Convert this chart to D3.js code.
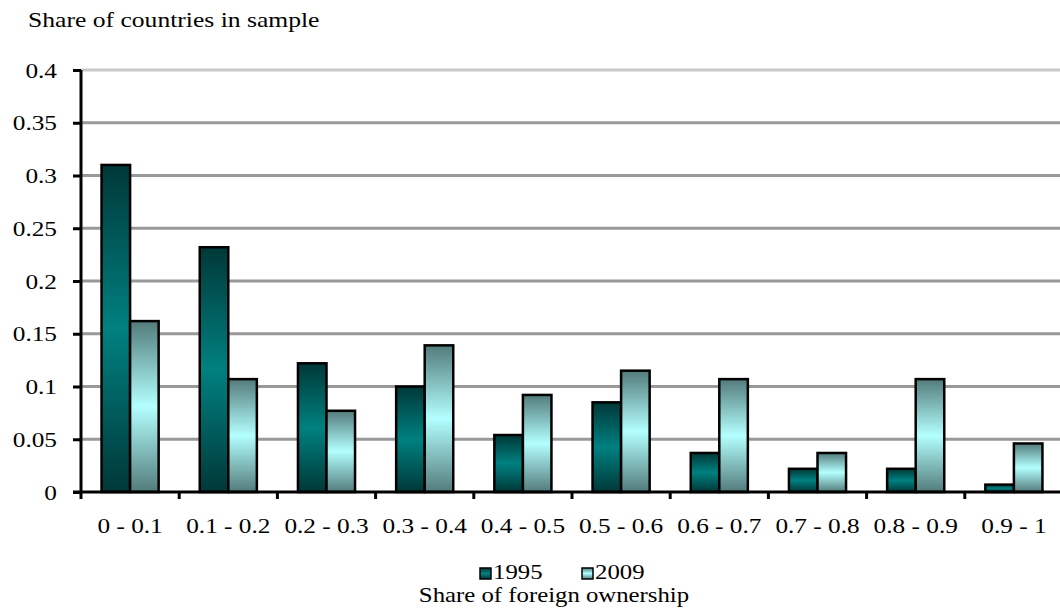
<!DOCTYPE html>
<html><head><meta charset="utf-8">
<script src="https://cdn.jsdelivr.net/npm/d3@7/dist/d3.min.js"></script>
<style>body{margin:0;background:#fff}svg{display:block}text{font-family:"Liberation Serif","Times New Roman",serif;fill:#000}</style>
</head><body>
<svg id="c" width="1060" height="615"></svg>
<script>
const categories = ["0 - 0.1","0.1 - 0.2","0.2 - 0.3","0.3 - 0.4","0.4 - 0.5","0.5 - 0.6","0.6 - 0.7","0.7 - 0.8","0.8 - 0.9","0.9 - 1"];
const series1995 = [0.31,0.232,0.122,0.1,0.054,0.085,0.037,0.022,0.022,0.007];
const series2009 = [0.162,0.107,0.077,0.139,0.092,0.115,0.107,0.037,0.107,0.046];
const seriesNames = ["1995","2009"];
const yTicks = [0,0.05,0.1,0.15,0.2,0.25,0.3,0.35,0.4];

const svg = d3.select("#c");
const L = 81, R = 1063, T = 70, B = 492;
const SX = 1.15;
const x = d3.scaleBand().domain(categories).range([L, R]).paddingInner(0).paddingOuter(0);
const inner = d3.scaleBand().domain(seriesNames).range([0, x.bandwidth()]).paddingInner(0).paddingOuter(0.72);
const y = d3.scaleLinear().domain([0,0.4]).range([B, T]);

function stretchedText(sel, tx, ty, str, size, anchor, sx){
  return sel.append("text").attr("transform",`translate(${tx},${ty}) scale(${sx||SX},1)`)
    .attr("font-size",size).attr("text-anchor",anchor||"start").text(str);
}

const defs = svg.append("defs");
const g1 = defs.append("linearGradient").attr("id","g1995").attr("x1",0).attr("y1",0).attr("x2",0).attr("y2",1);
[[0,"#003838"],[0.5,"#008080"],[1,"#003838"]].forEach(s=>g1.append("stop").attr("offset",s[0]).attr("stop-color",s[1]));
const g2 = defs.append("linearGradient").attr("id","g2009").attr("x1",0).attr("y1",0).attr("x2",0).attr("y2",1);
[[0,"#537b7b"],[0.5,"#b3ffff"],[1,"#537b7b"]].forEach(s=>g2.append("stop").attr("offset",s[0]).attr("stop-color",s[1]));

// gridlines
svg.append("g").selectAll("line").data(yTicks.filter(d=>d>0)).join("line")
  .attr("x1",L).attr("x2",R).attr("y1",d=>y(d)).attr("y2",d=>y(d))
  .attr("stroke",d=>d===0.4?"#c8c8c8":"#999").attr("stroke-width",3);

// bars
const data = categories.map((c,i)=>({c, v:[series1995[i],series2009[i]]}));
const grp = svg.append("g").selectAll("g").data(data).join("g").attr("transform",d=>`translate(${x(d.c)},0)`);
grp.selectAll("rect").data(d=>d.v.map((v,j)=>({k:seriesNames[j],v}))).join("rect")
  .attr("x",d=>inner(d.k)).attr("width",inner.bandwidth())
  .attr("y",d=>y(d.v)).attr("height",d=>B-y(d.v))
  .attr("fill",d=>`url(#g${d.k})`).attr("stroke","#000").attr("stroke-width",2.5);

// y axis
const ya = svg.append("g").attr("transform",`translate(${L},0)`)
  .call(d3.axisLeft(y).tickValues(yTicks).tickFormat("").tickSize(8));
ya.select(".domain").attr("stroke","#000").attr("stroke-width",3).attr("d",`M0,${T}V${B}`);
ya.selectAll(".tick line").attr("stroke","#000").attr("stroke-width",3).attr("x1",-8).attr("x2",0);
const yl = svg.append("g");
yTicks.forEach(t=>stretchedText(yl, 57, y(t)+7.5, String(+t.toFixed(2)), 22, "end"));

// x axis
const xa = svg.append("g").attr("transform",`translate(0,${B})`);
xa.append("line").attr("x1",L-8).attr("x2",R).attr("y1",0).attr("y2",0).attr("stroke","#000").attr("stroke-width",3);
const bounds = categories.map(c=>x(c)).concat([R]);
xa.selectAll("line.t").data(bounds).join("line").attr("class","t")
  .attr("x1",d=>d).attr("x2",d=>d).attr("y1",0).attr("y2",7).attr("stroke","#000").attr("stroke-width",3);
categories.forEach(c=>stretchedText(xa, x(c)+x.bandwidth()/2, 41, c, 22, "middle"));

// title
stretchedText(svg, 28, 27, "Share of countries in sample", 21, "start", 1.22);

// legend
const lg = svg.append("g").attr("transform","translate(480,568)");
seriesNames.forEach((s,i)=>{
  const gx = i*102;
  lg.append("rect").attr("x",gx).attr("y",0).attr("width",11).attr("height",11).attr("fill",`url(#g${s})`).attr("stroke","#000").attr("stroke-width",1.5);
  stretchedText(lg, gx+13, 11, s, 21, "start", 1.18);
});
stretchedText(svg, 554, 602, "Share of foreign ownership", 21, "middle", 1.18);
</script>
</body></html>
